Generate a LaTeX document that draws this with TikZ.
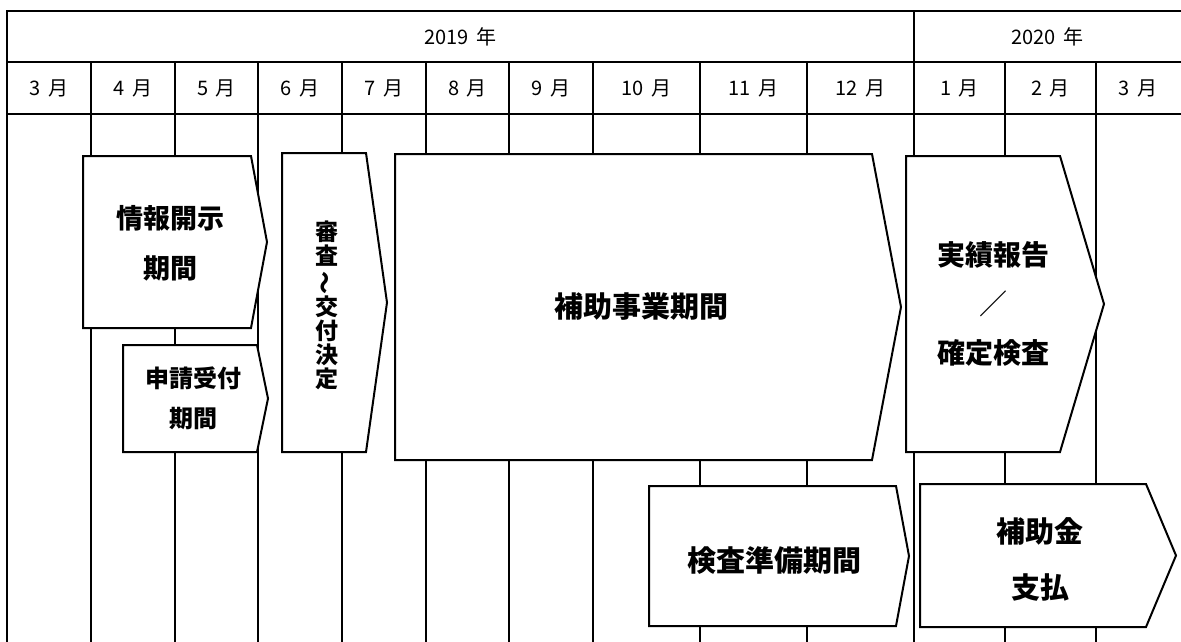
\documentclass[tikz,border=0pt]{standalone}
\usepackage{fontspec}
\usepackage{graphicx}
\setmainfont{Noto Sans CJK JP}
\newcommand{\mgap}{\hspace{0.38em}}
\begin{document}
\begin{tikzpicture}[x=1pt,y=-1pt,
  grid/.style={line width=1.7pt},
  pbox/.style={draw,line width=2pt,fill=white,line join=miter},
  hdr/.style={font=\fontsize{20pt}{23pt}\selectfont,inner sep=0pt},
  lbl/.style={align=center,inner sep=0pt}]
\useasboundingbox (0,0) rectangle (1181,642);
\clip (0,0) rectangle (1181,642);
% grid
\draw[grid] (7,650) -- (7,11) -- (1190,11);
\draw[grid] (7,62) -- (1190,62);
\draw[grid] (7,114) -- (1190,114);
\foreach \x in {91,175,258,342,426,509,593,700,807,1005,1096}
  \draw[grid] (\x,62) -- (\x,650);
\draw[grid] (914,11) -- (914,650);
% headers
\node[hdr] (y2019) at (460.5,36.5) {2019\mgap 年};
\node[hdr] (y2020) at (1047,36.5) {2020\mgap 年};
\node[hdr] (m3) at (49,88) {3\mgap 月};
\node[hdr] (m4) at (133,88) {4\mgap 月};
\node[hdr] (m5) at (216.5,88) {5\mgap 月};
\node[hdr] (m6) at (300,88) {6\mgap 月};
\node[hdr] (m7) at (384,88) {7\mgap 月};
\node[hdr] (m8) at (467.5,88) {8\mgap 月};
\node[hdr] (m9) at (551,88) {9\mgap 月};
\node[hdr] (m10) at (646.5,88) {10\mgap 月};
\node[hdr] (m11) at (753.5,88) {11\mgap 月};
\node[hdr] (m12) at (860.5,88) {12\mgap 月};
\node[hdr] (n1) at (959.5,88) {1\mgap 月};
\node[hdr] (n2) at (1050.5,88) {2\mgap 月};
\node[hdr] (n3) at (1138,88) {3\mgap 月};
% boxes
\draw[pbox] (83,156) -- (251,156) -- (267,242) -- (251,328) -- (83,328) -- cycle;
\node[lbl,font=\bfseries\fontsize{27pt}{50pt}\selectfont] (kaiji) at (170,243) {情報開示\\期間};
\draw[pbox] (123,345) -- (257,345) -- (268,398.5) -- (257,452) -- (123,452) -- cycle;
\node[lbl,font=\bfseries\fontsize{24pt}{40pt}\selectfont] (uketsuke) at (193.5,398) {申請受付\\期間};
\draw[pbox] (282,153) -- (366,153) -- (387,302.5) -- (366,452) -- (282,452) -- cycle;
\node[lbl,font=\bfseries\fontsize{23pt}{24.2pt}\selectfont] (shinsa) at (327,305.5) {審\\査\\\rotatebox[origin=c]{90}{～}\\交\\付\\決\\定};
\draw[pbox] (395,154) -- (872,154) -- (901,307) -- (872,460) -- (395,460) -- cycle;
\node[lbl,font=\bfseries\fontsize{29pt}{34pt}\selectfont] (jigyo) at (641,307) {補助事業期間};
\draw[pbox] (906,156) -- (1060,156) -- (1104,304) -- (1060,452) -- (906,452) -- cycle;
\node[lbl,font=\bfseries\fontsize{28pt}{49pt}\selectfont] (jisseki) at (993,304) {実績報告\\{\mdseries ／}\\確定検査};
\draw[pbox] (649,486) -- (896,486) -- (909,556) -- (896,626) -- (649,626) -- cycle;
\node[lbl,font=\bfseries\fontsize{29pt}{34pt}\selectfont] (junbi) at (774,560) {検査準備期間};
\draw[pbox] (920,484) -- (1146,484) -- (1176,555.5) -- (1146,627) -- (920,627) -- cycle;
\node[lbl,font=\bfseries\fontsize{29pt}{56pt}\selectfont] (shiharai) at (1040,559) {補助金\\支払};
\end{tikzpicture}
\end{document}
